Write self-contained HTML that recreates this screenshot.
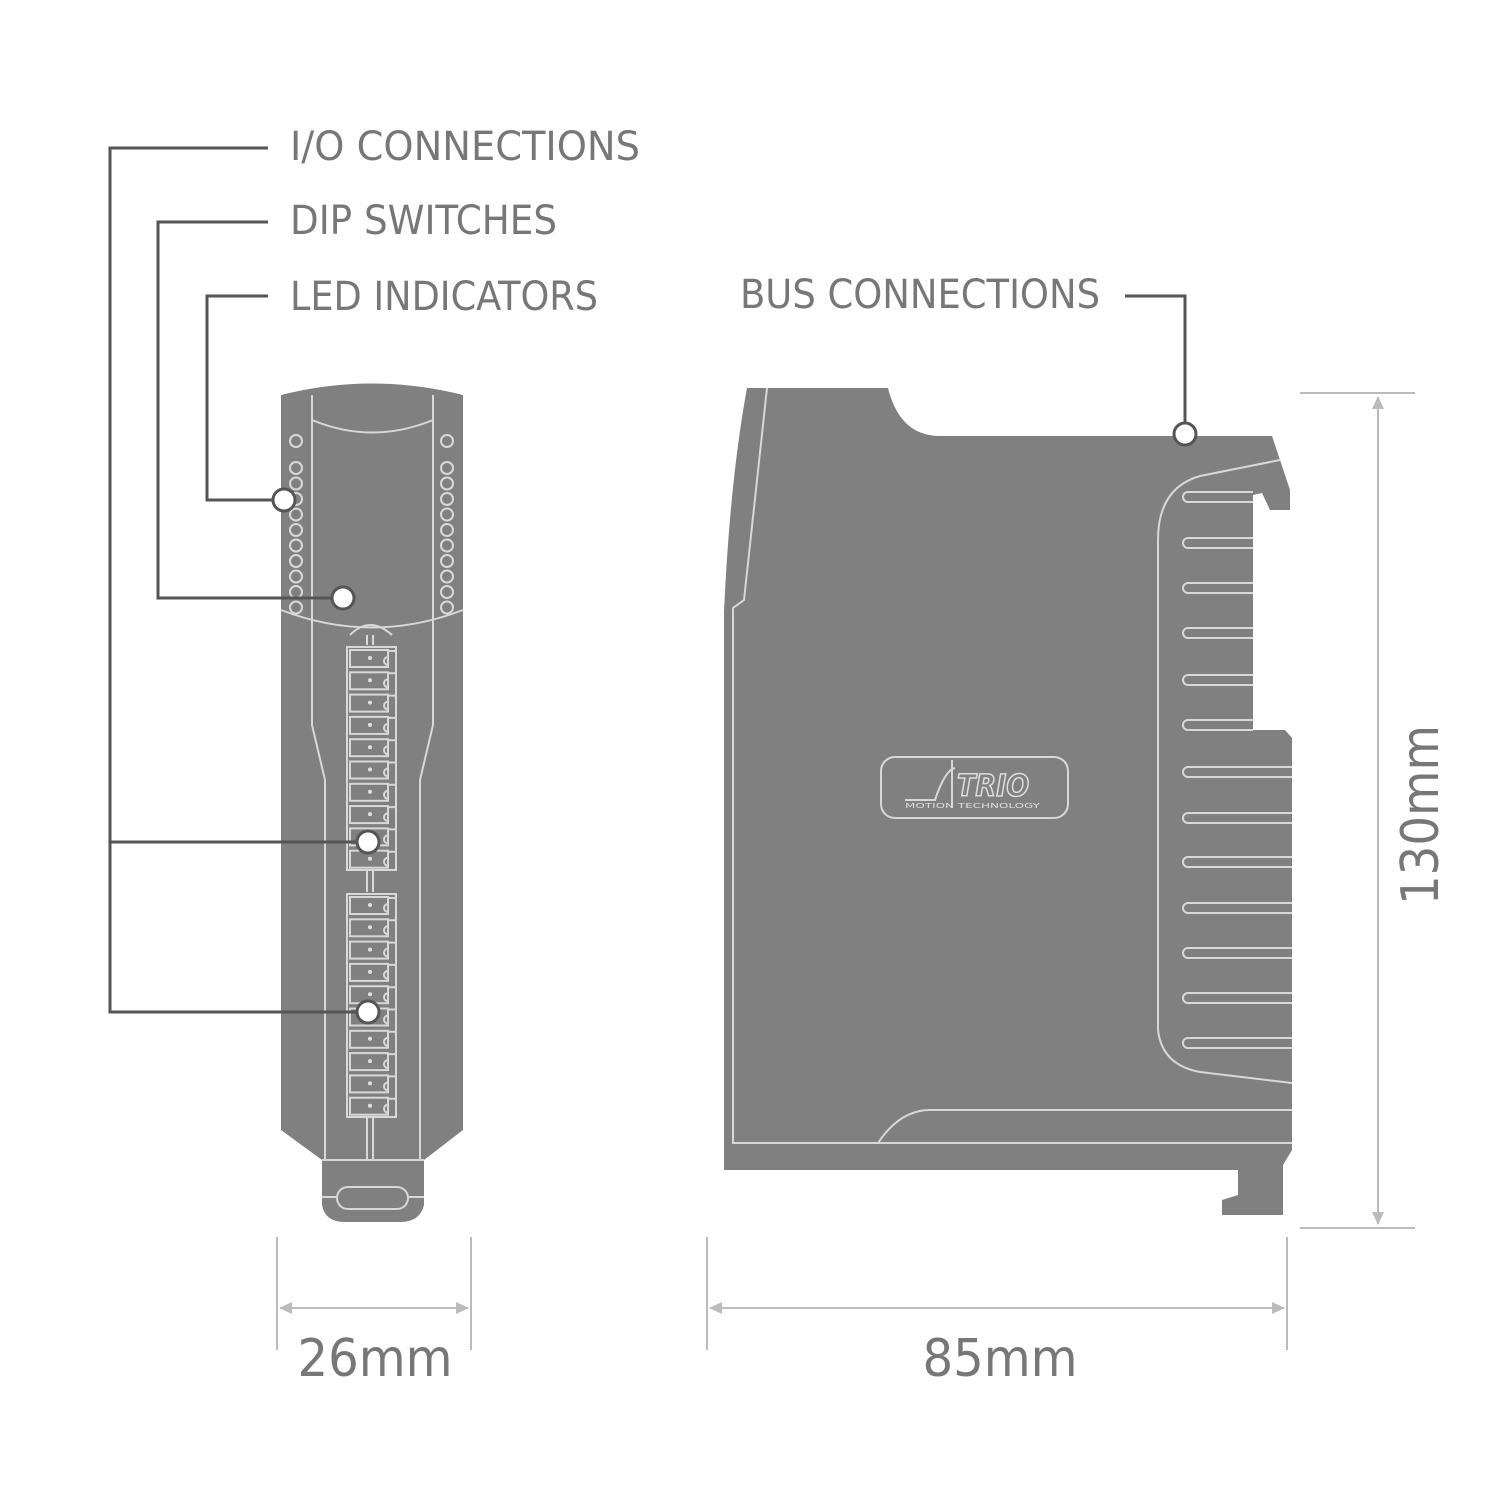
<!DOCTYPE html>
<html><head><meta charset="utf-8"><style>
html,body{margin:0;padding:0;background:#fff;width:1500px;height:1500px;overflow:hidden}
svg{display:block}
text{font-family:"DejaVu Sans Condensed","Liberation Sans Narrow","Liberation Sans",sans-serif;fill:#777}
</style></head><body>
<svg id="s" width="1500" height="1500" viewBox="0 0 1500 1500" xmlns="http://www.w3.org/2000/svg">
<!-- FRONT MODULE -->
<path d="M281,395 Q372,372 463,395 L463,1130 L424,1160 L424,1205 Q420,1222 400,1222 L345,1222 Q325,1222 322,1205 L322,1160 L281,1130 Z" fill="#808080"/>
<g fill="none" stroke="#d8d8d8" stroke-width="2">
<path d="M312,395 L312,725 L325,780 L325,1160"/>
<path d="M433,395 L433,725 L420,780 L420,1160"/>
<path d="M312,420 Q372,445 433,420"/>
<path d="M281,610 Q372,645 463,610"/>
<path d="M350,635 Q370,615 392,635"/>
<path d="M322,1160 L424,1160"/>
<path d="M322,1197 L337,1197 M408,1197 L424,1197"/>
<rect x="337" y="1187" width="71" height="22" rx="11"/>
<path d="M367,635 L367,645 M373,635 L373,645"/>
<path d="M367,1117 L367,1160 M373,1117 L373,1160"/>
<path d="M367,870 L367,892 M373,870 L373,892"/>
</g>
<g id="leds" fill="none" stroke="#d8d8d8" stroke-width="2"></g>
<g id="conn" fill="none" stroke="#d8d8d8" stroke-width="2"></g>
<g id="dots" fill="#e0e0e0"></g>

<!-- SIDE MODULE -->
<path d="M747,388 L888,388 Q900,436 940,436 L1272,436 L1290,490 L1290,510 L1270,510 L1262,493 L1253,495 L1253,730 L1285,730 L1292,738 L1292,1150 L1283,1165 L1283,1215 L1222,1215 L1222,1200 L1238,1195 L1238,1170 L724,1170 L724,612 Q730,480 747,388 Z" fill="#808080"/>
<g fill="none" stroke="#d8d8d8" stroke-width="2">
<path d="M767,388 L744,600 L733,608 L733,1143 L1292,1143"/>
<path d="M878,1143 Q900,1110 930,1110 L1292,1110"/>
<path d="M1280,460 L1200,476 Q1158,488 1158,540 L1158,1030 Q1162,1065 1200,1072 L1292,1083"/>
<rect x="881" y="757" width="187" height="61" rx="14"/>
<path d="M905,800 L935,800 Q945,770 955,768 M952,760 L952,808"/>
</g>
<g id="fins" fill="none" stroke="#d8d8d8" stroke-width="2"></g>
<text x="957" y="796" font-size="30" font-weight="bold" font-style="italic" fill="none" stroke="#ddd" stroke-width="1.5" style="fill:none">TRIO</text>
<text x="905" y="808" font-size="7" style="fill:#ddd" textLength="135" lengthAdjust="spacingAndGlyphs">MOTION TECHNOLOGY</text>

<!-- LEADERS -->
<g fill="none" stroke="#555" stroke-width="3">
<path d="M268,148 L110,148 L110,1012 L368,1012 M110,842 L368,842"/>
<path d="M268,222 L158,222 L158,598 L343,598"/>
<path d="M268,296 L207,296 L207,500 L284,500"/>
<path d="M1125,296 L1185,296 L1185,434"/>
</g>
<g fill="#fff" stroke="#555" stroke-width="3">
<circle cx="284" cy="500" r="11"/>
<circle cx="343" cy="598" r="11"/>
<circle cx="368" cy="842" r="11"/>
<circle cx="368" cy="1012" r="11"/>
<circle cx="1185" cy="434" r="11"/>
</g>
<text x="290" y="160" font-size="40" textLength="350" lengthAdjust="spacingAndGlyphs">I/O CONNECTIONS</text>
<text x="290" y="234" font-size="40" textLength="267" lengthAdjust="spacingAndGlyphs">DIP SWITCHES</text>
<text x="290" y="310" font-size="40" textLength="308" lengthAdjust="spacingAndGlyphs">LED INDICATORS</text>
<text x="740" y="308" font-size="40" textLength="360" lengthAdjust="spacingAndGlyphs">BUS CONNECTIONS</text>

<!-- DIMENSIONS -->
<g stroke="#bbb" stroke-width="2" fill="none">
<path d="M277,1237 L277,1350 M471,1237 L471,1350 M280,1308 L468,1308"/>
<path d="M707,1237 L707,1350 M1287,1237 L1287,1350 M710,1308 L1284,1308"/>
<path d="M1300,393 L1415,393 M1300,1228 L1415,1228 M1378,397 L1378,1224"/>
</g>
<g fill="#bbb">
<path d="M279,1308 L292,1302 L292,1314Z M469,1308 L456,1302 L456,1314Z"/>
<path d="M709,1308 L722,1302 L722,1314Z M1285,1308 L1272,1302 L1272,1314Z"/>
<path d="M1378,396 L1372,409 L1384,409Z M1378,1225 L1372,1212 L1384,1212Z"/>
</g>
<text x="375" y="1376" font-size="52" text-anchor="middle" textLength="155" lengthAdjust="spacingAndGlyphs">26mm</text>
<text x="1000" y="1376" font-size="52" text-anchor="middle" textLength="155" lengthAdjust="spacingAndGlyphs">85mm</text>
<text transform="translate(1438,815) rotate(-90)" font-size="52" text-anchor="middle" textLength="180" lengthAdjust="spacingAndGlyphs">130mm</text>
</svg>
<script>
var NS="http://www.w3.org/2000/svg";
function el(p,t,a){var e=document.createElementNS(NS,t);for(var k in a)e.setAttribute(k,a[k]);document.getElementById(p).appendChild(e);}
var ys=[441];for(var i=0;i<10;i++)ys.push(468+i*15.5);
ys.forEach(function(y){el("leds","circle",{cx:296,cy:y,r:6});el("leds","circle",{cx:447,cy:y,r:6});});
[647,894].forEach(function(y0){
 el("conn","rect",{x:347,y:y0,width:49,height:223});
 for(var i=0;i<10;i++){var y=y0+i*22.3;
  el("conn","rect",{x:350,y:y+3,width:38,height:17});
  el("conn","path",{d:"M396,"+(y+4)+" L388,"+(y+4)+" M388,"+(y+18)+" a4,4 0 0 1 0,-8"});
  el("dots","circle",{cx:370,cy:y+11,r:2});
 }
});
[497,543,588,633,680,725,772,818,862,908,953,998,1043].forEach(function(y){
 var xe=(y<730)?1253:1292;
 el("fins","path",{d:"M"+xe+","+(y-5)+" L1188,"+(y-5)+" a5,5 0 0 0 0,10 L"+xe+","+(y+5)});
});
</script>
</body></html>
